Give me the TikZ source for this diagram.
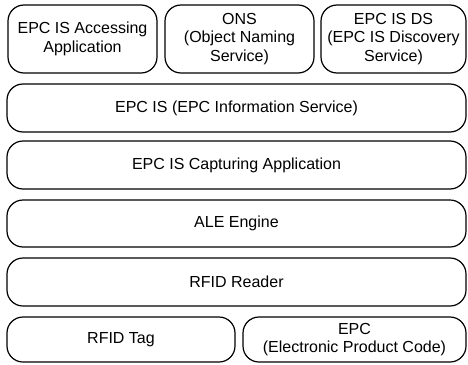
\documentclass[tikz,border=0pt]{standalone}
\usepackage{fontspec}
\setmainfont{Liberation Sans}
\usepackage{tikz}

\begin{document}
\begin{tikzpicture}[x=1pt,y=-1pt,
	layer/.style={draw,line width=1.2pt,rounded corners=16pt,inner sep=0pt,align=center,
		font=\fontsize{16}{18.5}\selectfont}]
	\useasboundingbox (0,0) rectangle (468,364);
	% top row: services
	\node[layer,minimum width=149pt,minimum height=68pt] (access) at (82.5,39) {EPC IS Accessing\\Application};
	\node[layer,minimum width=149pt,minimum height=68pt] (ons) at (239.5,39) {ONS\\(Object Naming\\Service)};
	\node[layer,minimum width=145pt,minimum height=68pt] (ds) at (393.5,39) {EPC IS DS\\(EPC IS Discovery\\Service)};
	% middle layers
	\node[layer,minimum width=459pt,minimum height=48pt] (epcis) at (236.5,108) {EPC IS (EPC Information Service)};
	\node[layer,minimum width=459pt,minimum height=48pt] (capture) at (236.5,165) {EPC IS Capturing Application};
	\node[layer,minimum width=459pt,minimum height=47pt] (ale) at (236.5,223.5) {ALE Engine};
	\node[layer,minimum width=459pt,minimum height=48pt] (reader) at (236.5,282) {RFID Reader};
	% bottom row
	\node[layer,minimum width=228pt,minimum height=45pt] (tag) at (121,339.5) {RFID Tag};
	\node[layer,minimum width=223pt,minimum height=45pt] (epc) at (354.5,339.5) {EPC\\(Electronic Product Code)};
\end{tikzpicture}
\end{document}
